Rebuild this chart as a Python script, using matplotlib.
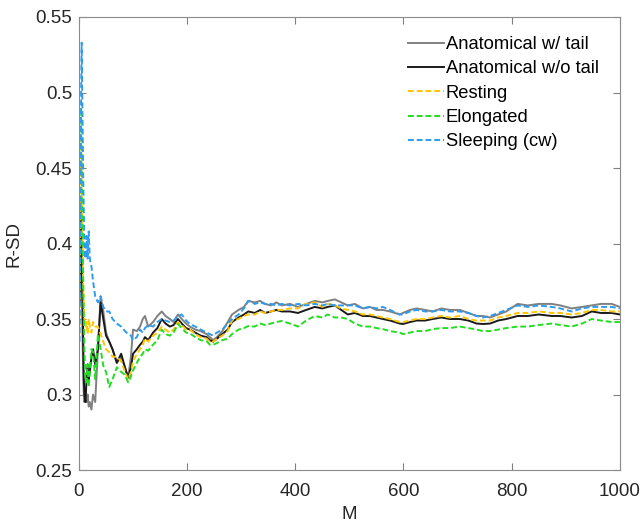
import matplotlib
matplotlib.use("Agg")
import matplotlib.pyplot as plt

M = [1,2,3,4,5,6,7,8,9,10,12,14,16,18,20,23,26,30,35,40,45,50,56,62,70,78,85,91,96,100,
     107,113,118,122,128,137,145,153,160,168,175,183,190,198,205,215,225,236,242,248,
     255,265,275,283,295,305,313,325,335,344,355,365,375,390,405,420,436,450,460,473,
     485,497,510,525,538,550,562,575,593,599,612,624,640,654,670,686,704,720,735,747,
     760,775,790,811,830,850,874,890,911,930,948,965,985,1000]

anat_tail = [0.36,0.39,0.43,0.41,0.38,0.35,0.33,0.31,0.30,0.295,0.30,0.295,0.30,0.292,0.295,0.29,0.30,0.295,0.33,0.365,
             0.355,0.341,0.335,0.33,0.321,0.325,0.318,0.311,0.325,0.343,
             0.342,0.345,0.35,0.352,0.345,0.348,0.352,0.355,0.352,0.35,0.348,0.353,0.35,0.347,0.345,0.343,0.342,0.34,0.338,0.336,
             0.338,0.342,0.348,0.353,0.356,0.358,0.362,0.361,0.362,0.36,0.359,0.361,0.359,0.36,0.358,0.36,0.362,0.361,0.362,0.363,
             0.361,0.359,0.36,0.357,0.358,0.356,0.356,0.355,0.353,0.354,0.356,0.357,0.356,0.355,0.357,0.356,0.356,0.354,0.352,0.352,
             0.351,0.353,0.355,0.36,0.359,0.36,0.36,0.359,0.357,0.358,0.359,0.36,0.36,0.358]

anat_notail = [0.36,0.38,0.41,0.42,0.39,0.37,0.36,0.33,0.31,0.30,0.295,0.31,0.32,0.31,0.315,0.325,0.33,0.32,0.33,0.361,
               0.35,0.339,0.335,0.33,0.321,0.327,0.318,0.311,0.318,0.327,
               0.33,0.333,0.335,0.338,0.336,0.341,0.344,0.35,0.347,0.345,0.346,0.35,0.347,0.344,0.343,0.341,0.339,0.338,0.336,0.335,
               0.337,0.34,0.343,0.348,0.351,0.353,0.355,0.354,0.356,0.354,0.355,0.356,0.355,0.355,0.354,0.356,0.358,0.357,0.358,0.359,
               0.356,0.353,0.354,0.352,0.352,0.351,0.35,0.349,0.347,0.3467,0.348,0.349,0.349,0.35,0.351,0.35,0.35,0.349,0.347,0.3467,
               0.347,0.349,0.35,0.352,0.352,0.353,0.352,0.352,0.351,0.352,0.355,0.354,0.354,0.353]

resting = [0.34,0.38,0.44,0.47,0.44,0.41,0.39,0.37,0.36,0.35,0.345,0.348,0.34,0.35,0.345,0.341,0.348,0.345,0.345,0.34,
           0.335,0.33,0.328,0.325,0.325,0.322,0.315,0.31,0.315,0.322,
           0.327,0.33,0.333,0.337,0.335,0.339,0.341,0.345,0.343,0.341,0.343,0.348,0.346,0.343,0.343,0.34,0.338,0.337,0.335,0.335,
           0.337,0.339,0.342,0.349,0.35,0.352,0.353,0.353,0.355,0.354,0.355,0.356,0.356,0.357,0.357,0.36,0.361,0.358,0.36,0.359,
           0.357,0.356,0.355,0.353,0.353,0.352,0.351,0.35,0.348,0.348,0.349,0.35,0.35,0.351,0.352,0.351,0.352,0.35,0.349,0.349,
           0.349,0.351,0.352,0.354,0.354,0.355,0.354,0.354,0.353,0.354,0.356,0.356,0.355,0.355]

elongated = [0.37,0.40,0.45,0.49,0.46,0.43,0.40,0.37,0.35,0.33,0.31,0.308,0.32,0.305,0.315,0.33,0.328,0.31,0.34,0.33,
             0.319,0.315,0.305,0.31,0.318,0.315,0.313,0.308,0.312,0.316,
             0.321,0.325,0.327,0.33,0.329,0.333,0.336,0.343,0.34,0.339,0.341,0.3467,0.344,0.341,0.3405,0.338,0.336,0.3353,0.333,0.333,
             0.334,0.336,0.337,0.34,0.343,0.344,0.3453,0.345,0.347,0.346,0.347,0.348,0.3487,0.347,0.345,0.349,0.352,0.351,0.353,0.351,
             0.351,0.35,0.347,0.345,0.345,0.344,0.3433,0.342,0.341,0.34,0.341,0.342,0.342,0.3433,0.344,0.344,0.345,0.344,0.343,0.342,
             0.342,0.343,0.344,0.345,0.345,0.346,0.347,0.346,0.345,0.347,0.35,0.349,0.348,0.348]

sleeping = [0.335,0.38,0.45,0.50,0.533,0.50,0.47,0.44,0.42,0.40,0.39,0.405,0.39,0.408,0.39,0.385,0.375,0.365,0.361,0.365,
            0.358,0.355,0.355,0.35,0.347,0.345,0.342,0.34,0.339,0.336,
            0.338,0.343,0.341,0.344,0.346,0.345,0.348,0.35,0.349,0.348,0.349,0.352,0.353,0.349,0.3467,0.345,0.343,0.341,0.34,0.339,
            0.341,0.343,0.347,0.35,0.353,0.357,0.362,0.36,0.361,0.36,0.36,0.359,0.36,0.359,0.36,0.359,0.36,0.359,0.36,0.359,
            0.359,0.359,0.359,0.357,0.358,0.357,0.358,0.356,0.353,0.353,0.355,0.356,0.355,0.355,0.356,0.355,0.355,0.354,0.352,0.351,
            0.352,0.354,0.356,0.359,0.358,0.359,0.358,0.357,0.355,0.357,0.358,0.358,0.358,0.357]

labels = ["Anatomical w/ tail", "Anatomical w/o tail", "Resting", "Elongated", "Sleeping (cw)"]
series = [anat_tail, anat_notail, resting, elongated, sleeping]
colors = ["#808080", "#1a1a1a", "#FFC400", "#22DD22", "#2E9BEF"]
styles = ["-", "-", (0, (3, 1.5)), (0, (3, 1.5)), (0, (3, 1.5))]

for s in series:
    assert len(s) == len(M), len(s)

plt.rcParams['font.family'] = ['Liberation Sans', 'DejaVu Sans']
fig = plt.figure(figsize=(6.41, 5.23), dpi=100)
ax = fig.add_axes([0.1232, 0.1013, 0.8438, 0.8662])

for s, lab, c, ls in zip(series, labels, colors, styles):
    ax.plot(M, s, color=c, linestyle=ls, linewidth=1.4, label=lab)

ax.set_xlim(0, 1000)
ax.set_ylim(0.25, 0.55)
ax.set_xticks([0, 200, 400, 600, 800, 1000])
ax.set_yticks([0.25, 0.3, 0.35, 0.4, 0.45, 0.5, 0.55])
ax.set_yticklabels(["0.25", "0.3", "0.35", "0.4", "0.45", "0.5", "0.55"])
ax.tick_params(direction='in', top=True, right=True, labelsize=13.5,
               colors='#808080', labelcolor='#262626', length=5)
ax.tick_params(axis='x', pad=9)
ax.tick_params(axis='y', pad=5)
for sp in ax.spines.values():
    sp.set_color('#8c8c8c')
ax.set_xlabel("M", fontsize=13.5, color='#262626', labelpad=5)
ax.set_ylabel("R-SD", fontsize=13.5, color='#262626', labelpad=9)

ax.legend(loc='upper left', bbox_to_anchor=(0.608, 0.958), frameon=False,
          fontsize=13.2, handlelength=2.0, handletextpad=0.08,
          labelspacing=0.4, borderpad=0, borderaxespad=0)

fig.savefig("out.png", dpi=100)
